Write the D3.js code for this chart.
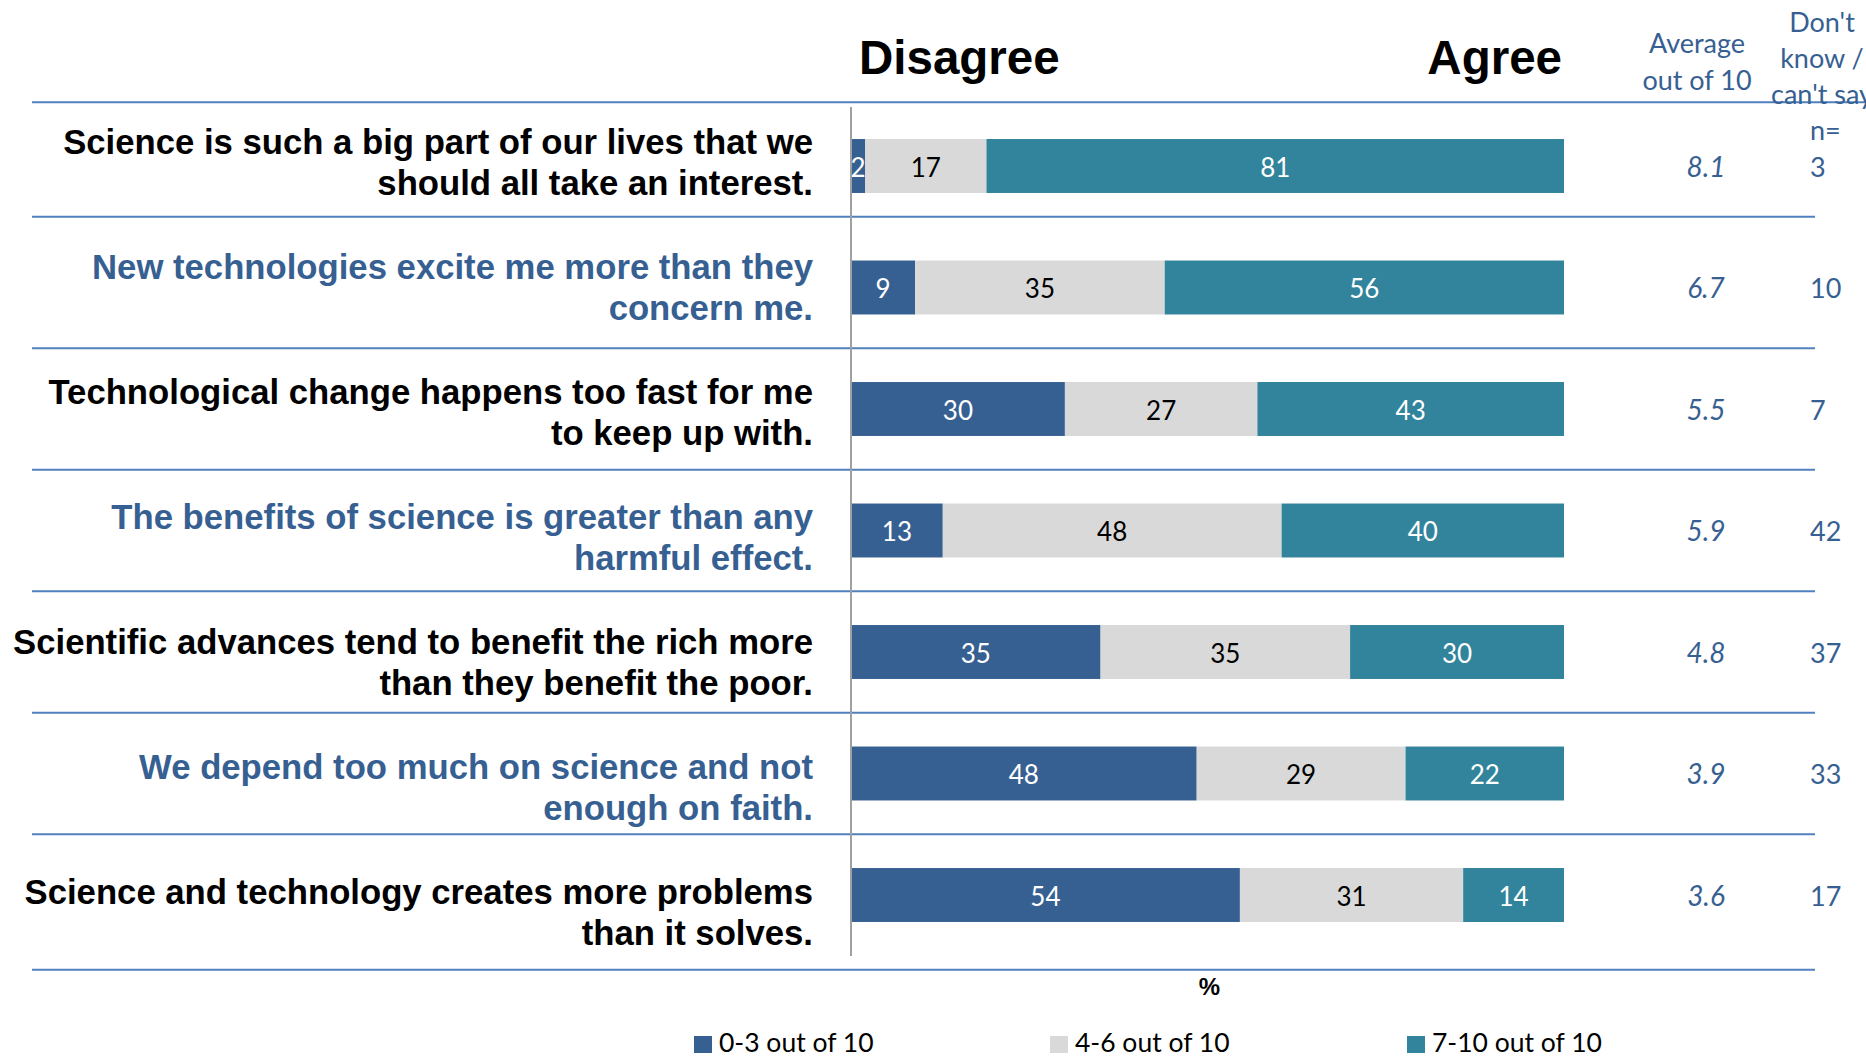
<!DOCTYPE html>
<html>
<head>
<meta charset="utf-8">
<script src="https://cdn.jsdelivr.net/npm/d3@7"></script>
<style>
  html, body { margin: 0; padding: 0; background: #fff; }
  svg { display: block; }
</style>
</head>
<body>
<svg id="chart" width="1866" height="1057"></svg>
<script>
// Attitude statements, each split over two lines
const statements = [
  ["Science is such a big part of our lives that we", "should all take an interest."],
  ["New technologies excite me more than they", "concern me."],
  ["Technological change happens too fast for me", "to keep up with."],
  ["The benefits of science is greater than any", "harmful effect."],
  ["Scientific advances tend to benefit the rich more", "than they benefit the poor."],
  ["We depend too much on science and not", "enough on faith."],
  ["Science and technology creates more problems", "than it solves."]
];

// Share of respondents (%) by score band
const lowScores  = [2, 9, 30, 13, 35, 48, 54];   // 0-3 out of 10
const midScores  = [17, 35, 27, 48, 35, 29, 31]; // 4-6 out of 10
const highScores = [81, 56, 43, 40, 30, 22, 14]; // 7-10 out of 10

const averageScores = [8.1, 6.7, 5.5, 5.9, 4.8, 3.9, 3.6];
const dontKnowCounts = [3, 10, 7, 42, 37, 33, 17];

const seriesKeys = ["low", "mid", "high"];
const seriesNames = ["0-3 out of 10", "4-6 out of 10", "7-10 out of 10"];
const seriesColors = ["#376092", "#d9d9d9", "#31849b"];
const valueTextColors = ["#ffffff", "#000000", "#ffffff"];

const rows = statements.map((s, i) => ({
  id: i,
  lines: s,
  low: lowScores[i],
  mid: midScores[i],
  high: highScores[i],
  avg: averageScores[i],
  dk: dontKnowCounts[i]
}));

const svg = d3.select("#chart");
const W = 1866;

const BLUE_LINE = "#4f81bd";
const TEXT_BLUE = "#376092";
const ARIAL = "'Liberation Sans', Arial, sans-serif";
const CALIBRI = "Lato, 'Open Sans', sans-serif";

// Scales
const x = d3.scaleLinear().domain([0, 1]).range([851, 1564]);
const y = d3.scaleBand()
  .domain(rows.map(d => d.id))
  .range([105.25, 955.75])
  .paddingInner(0.556)
  .paddingOuter(0.278);
// statement text blocks sit on their own, slightly wider pitch
const labelY = d3.scalePoint()
  .domain(rows.map(d => d.id))
  .range([141.6, 891.6]);

const color = d3.scaleOrdinal().domain(seriesKeys).range(seriesColors);

// 100% stacked layout
const stack = d3.stack().keys(seriesKeys).offset(d3.stackOffsetExpand);
const layers = stack(rows);

// Table rules
const y0 = y.range()[0], step = y.step();
const rules = [];
rules.push({ y: y0 - 3, x2: W });
for (let k = 1; k < rows.length; k++) {
  rules.push({ y: y0 + step * k - (k === 1 ? 10 : 0), x2: 1815 });
}
rules.push({ y: y.range()[1] + 14, x2: 1815 });

svg.append("g").selectAll("line").data(rules).join("line")
  .attr("x1", 32).attr("x2", d => d.x2)
  .attr("y1", d => d.y).attr("y2", d => d.y)
  .attr("stroke", BLUE_LINE).attr("stroke-width", 2);

// Bars
const barG = svg.append("g");
layers.forEach((layer, li) => {
  const g = barG.append("g").attr("fill", color(layer.key));
  g.selectAll("rect").data(layer).join("rect")
    .attr("x", d => x(d[0]))
    .attr("width", d => x(d[1]) - x(d[0]))
    .attr("y", d => y(d.data.id))
    .attr("height", y.bandwidth());
  g.selectAll("text").data(layer).join("text")
    .attr("x", d => (x(d[0]) + x(d[1])) / 2)
    .attr("y", d => y(d.data.id) + y.bandwidth() / 2 + 10.5)
    .attr("text-anchor", "middle")
    .attr("font-family", CALIBRI)
    .attr("font-size", 26)
    .attr("fill", valueTextColors[li])
    .text(d => d.data[layer.key]);
});

// Vertical axis line
svg.append("line")
  .attr("x1", x(0)).attr("x2", x(0))
  .attr("y1", 107).attr("y2", 956)
  .attr("stroke", "#a0a0a0").attr("stroke-width", 2);

// Statement labels
const labelG = svg.append("g")
  .attr("font-family", ARIAL).attr("font-weight", "bold")
  .attr("font-size", 34.7).attr("text-anchor", "end");
labelG.selectAll("text").data(rows).join("text")
  .attr("fill", d => d.id % 2 === 1 ? TEXT_BLUE : "#000")
  .each(function (d) {
    const t = d3.select(this);
    d.lines.forEach((line, li) => {
      t.append("tspan")
        .attr("x", 813)
        .attr("y", labelY(d.id) + 12.5 + li * 41)
        .text(line);
    });
  });

// Headings
svg.append("text")
  .attr("x", x(0) + 8).attr("y", 74)
  .attr("font-family", ARIAL).attr("font-weight", "bold").attr("font-size", 47.5)
  .text("Disagree");
svg.append("text")
  .attr("x", x(1) - 2).attr("y", 74).attr("text-anchor", "end")
  .attr("font-family", ARIAL).attr("font-weight", "bold").attr("font-size", 47.5)
  .text("Agree");

// Side column headings
const avgHead = svg.append("text")
  .attr("font-family", CALIBRI).attr("font-size", 27)
  .attr("fill", TEXT_BLUE).attr("text-anchor", "middle");
["Average", "out of 10"].forEach((t, i) => {
  avgHead.append("tspan").attr("x", 1697).attr("y", 53 + i * 37).text(t);
});
const dkHead = svg.append("text")
  .attr("font-family", CALIBRI).attr("font-size", 27)
  .attr("fill", TEXT_BLUE).attr("text-anchor", "middle");
["Don't", "know /", "can't say"].forEach((t, i) => {
  dkHead.append("tspan").attr("x", 1822).attr("y", 32 + i * 36).text(t);
});
svg.append("text")
  .attr("x", 1810).attr("y", 140)
  .attr("font-family", CALIBRI).attr("font-size", 27).attr("fill", TEXT_BLUE)
  .text("n=");

// Side column values
svg.append("g").selectAll("text").data(rows).join("text")
  .attr("x", 1706)
  .attr("y", d => y(d.id) + y.bandwidth() / 2 + 10.5)
  .attr("text-anchor", "middle")
  .attr("font-family", CALIBRI).attr("font-size", 28).attr("font-style", "italic")
  .attr("fill", TEXT_BLUE)
  .text(d => d.avg.toFixed(1));
svg.append("g").selectAll("text").data(rows).join("text")
  .attr("x", 1810)
  .attr("y", d => y(d.id) + y.bandwidth() / 2 + 10.5)
  .attr("font-family", CALIBRI).attr("font-size", 27)
  .attr("fill", TEXT_BLUE)
  .text(d => d.dk);

// Axis unit
svg.append("text")
  .attr("x", (x(0) + x(1)) / 2 + 2).attr("y", 995)
  .attr("text-anchor", "middle")
  .attr("font-family", ARIAL).attr("font-weight", "bold").attr("font-size", 24)
  .text("%");

// Legend
const legendX = [694, 1050, 1407];
const legend = svg.append("g").selectAll("g").data(seriesKeys).join("g")
  .attr("transform", (d, i) => `translate(${legendX[i]},1036)`);
legend.append("rect")
  .attr("width", 18).attr("height", 17)
  .attr("fill", d => color(d));
legend.append("text")
  .attr("x", 25).attr("y", 16)
  .attr("font-family", CALIBRI).attr("font-size", 26.5)
  .attr("fill", "#000")
  .text((d, i) => seriesNames[i]);
</script>
</body>
</html>
